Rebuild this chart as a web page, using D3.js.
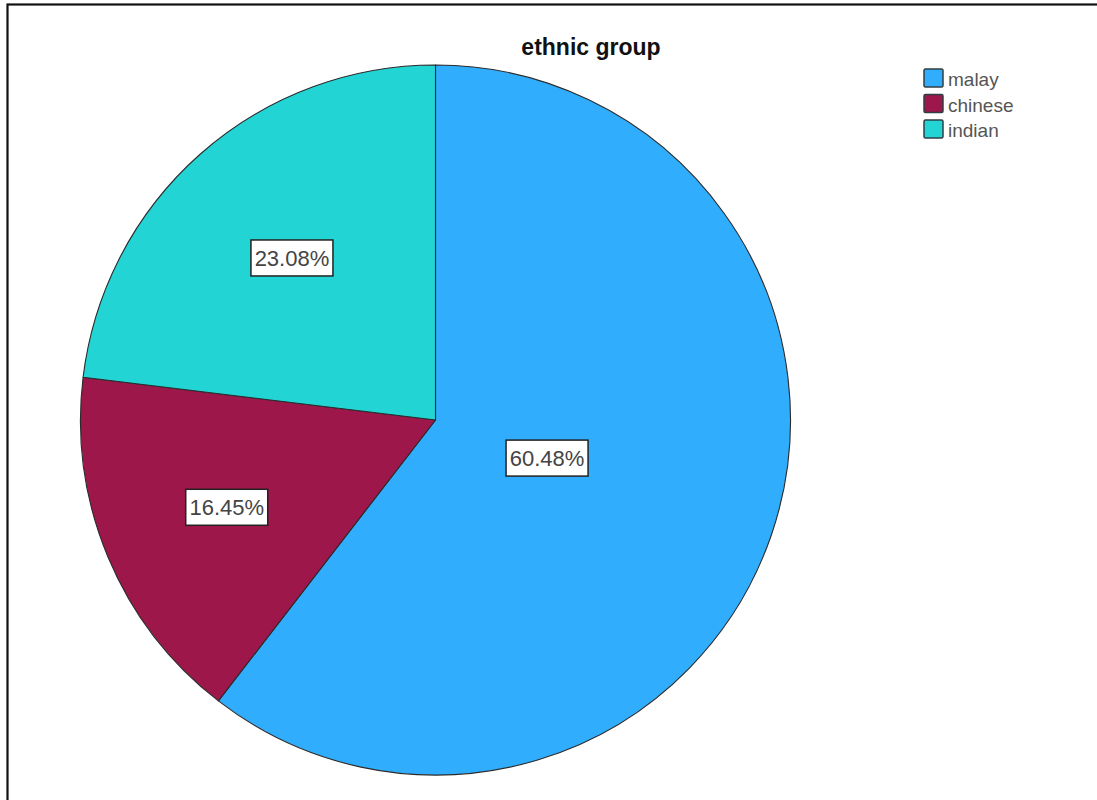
<!DOCTYPE html>
<html><head><meta charset="utf-8">
<script src="https://cdn.jsdelivr.net/npm/d3@7"></script>
<style>html,body{margin:0;padding:0;background:#fff;}svg{display:block;}</style>
</head><body>
<svg id="chart" width="1097" height="800"></svg>
<script>
const categories = ["malay", "chinese", "indian"];
const values = [60.48, 16.45, 23.08];
const colors = ["#31adfe", "#9d174a", "#22d4d4"];
const title = "ethnic group";

const svg = d3.select("#chart");
const W = 1097, H = 800;
const cx = 435.5, cy = 420, R = 355;

// frame
svg.append("rect").attr("x", 7.5).attr("y", 4.5).attr("width", W + 20).attr("height", H + 20)
  .attr("fill", "none").attr("stroke", "#111").attr("stroke-width", 2.2);

svg.append("text").attr("x", 591).attr("y", 55).attr("text-anchor", "middle")
  .attr("font-family", "Liberation Sans, Arial, sans-serif").attr("font-weight", "bold")
  .attr("font-size", 23).attr("fill", "#111").text(title);

const data = categories.map((c, i) => ({cat: c, value: values[i], color: colors[i]}));
const pie = d3.pie().value(d => d.value).sort(null);
const arcs = pie(data);
const arc = d3.arc().innerRadius(0).outerRadius(R);

const g = svg.append("g").attr("transform", `translate(${cx},${cy})`);
g.selectAll("path").data(arcs).join("path")
  .attr("d", arc).attr("fill", d => d.data.color)
  .attr("stroke", "#2a2a2a").attr("stroke-width", 1.1).attr("stroke-linejoin", "round");

// labels at area centroid of each sector
function areaCentroid(d) {
  const th = d.endAngle - d.startAngle;
  const mid = (d.startAngle + d.endAngle) / 2;
  const dist = 2 * R * Math.sin(th / 2) / (3 * th / 2);
  return [dist * Math.sin(mid), -dist * Math.cos(mid)];
}
const lab = g.selectAll("g.lab").data(arcs).join("g").attr("class", "lab")
  .attr("transform", d => { const p = areaCentroid(d); return `translate(${p[0]},${p[1]})`; });
lab.append("rect").attr("x", -41).attr("y", -18).attr("width", 82).attr("height", 36)
  .attr("fill", "#fff").attr("stroke", "#222").attr("stroke-width", 1.5);
lab.append("text").attr("text-anchor", "middle").attr("y", 8)
  .attr("font-family", "Liberation Sans, Arial, sans-serif").attr("font-size", 22)
  .attr("fill", "#444").text(d => d.data.value.toFixed(2) + "%");

// legend
const leg = svg.append("g").attr("transform", "translate(924,69)");
const li = leg.selectAll("g").data(data).join("g").attr("transform", (d, i) => `translate(0,${i * 25.5})`);
li.append("rect").attr("width", 19).attr("height", 18).attr("rx", 1.5)
  .attr("fill", d => d.color).attr("stroke", "#2f3f44").attr("stroke-width", 1.5);
li.append("text").attr("x", 24).attr("y", 17)
  .attr("font-family", "Liberation Sans, Arial, sans-serif").attr("font-size", 19)
  .attr("fill", "#555").text(d => d.cat);
</script>
</body></html>
